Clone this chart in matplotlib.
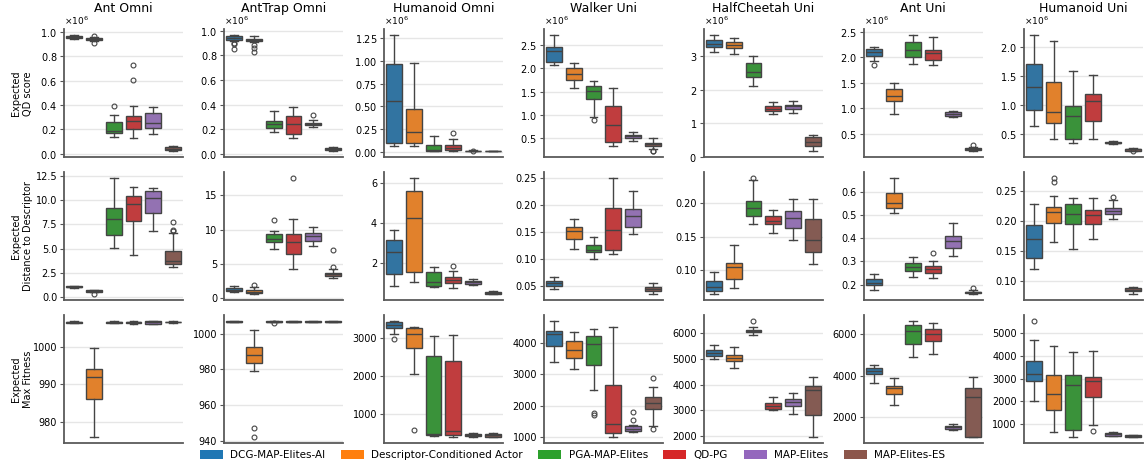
import numpy as np
import matplotlib
matplotlib.use("Agg")
import matplotlib.pyplot as plt
from matplotlib.ticker import MultipleLocator
from matplotlib.patches import Patch

ENVS = ["Ant Omni", "AntTrap Omni", "Humanoid Omni", "Walker Uni",
        "HalfCheetah Uni", "Ant Uni", "Humanoid Uni"]
METHODS = ["DCG-MAP-Elites-AI", "Descriptor-Conditioned Actor", "PGA-MAP-Elites",
           "QD-PG", "MAP-Elites", "MAP-Elites-ES"]
ROW_LABELS = ["Expected\nQD score", "Expected\nDistance to Descriptor",
              "Expected\nMax Fitness"]

# QD score, in millions (one row per env, one value per method)
QD_MED = [[0.960, 0.943, 0.187, 0.264, 0.250, 0.039],
          [0.940, 0.925, 0.240, 0.240, 0.245, 0.038],
          [0.562, 0.215, 0.018, 0.044, 0.010, 0.008],
          [2.378, 1.874, 1.507, 0.784, 0.532, 0.363],
          [3.35, 3.32, 2.52, 1.43, 1.50, 0.43],
          [2.10, 1.25, 2.14, 2.09, 0.895, 0.20],
          [1.313, 0.875, 0.80, 1.071, 0.345, 0.23]]
QD_Q1 = [[0.955, 0.935, 0.165, 0.201, 0.207, 0.028],
         [0.927, 0.916, 0.210, 0.165, 0.235, 0.030],
         [0.092, 0.092, 0.011, 0.018, 0.007, 0.006],
         [2.14, 1.745, 1.335, 0.414, 0.50, 0.32],
         [3.27, 3.24, 2.37, 1.36, 1.43, 0.31],
         [2.025, 1.153, 2.01, 1.945, 0.85, 0.18],
         [0.904, 0.679, 0.413, 0.719, 0.333, 0.21]]
QD_Q3 = [[0.965, 0.950, 0.256, 0.311, 0.331, 0.052],
         [0.955, 0.935, 0.270, 0.305, 0.255, 0.045],
         [0.965, 0.473, 0.078, 0.074, 0.012, 0.010],
         [2.45, 2.01, 1.615, 1.19, 0.56, 0.392],
         [3.47, 3.42, 2.79, 1.51, 1.55, 0.58],
         [2.15, 1.378, 2.29, 2.14, 0.935, 0.22],
         [1.70, 1.394, 0.979, 1.181, 0.356, 0.24]]
QD_LO = [[0.945, 0.928, 0.138, 0.124, 0.160, 0.017],
         [0.915, 0.905, 0.175, 0.130, 0.220, 0.020],
         [0.059, 0.067, 0.010, 0.010, 0.005, 0.004],
         [2.07, 1.587, 0.953, 0.327, 0.43, 0.27],
         [3.12, 3.07, 2.10, 1.26, 1.30, 0.16],
         [1.92, 0.896, 1.86, 1.85, 0.83, 0.16],
         [0.633, 0.413, 0.344, 0.402, 0.32, 0.21]]
QD_HI = [[0.975, 0.958, 0.317, 0.388, 0.380, 0.063],
         [0.965, 0.958, 0.345, 0.385, 0.275, 0.055],
         [1.287, 0.984, 0.170, 0.140, 0.015, 0.012],
         [2.716, 2.115, 1.723, 1.58, 0.633, 0.50],
         [3.62, 3.54, 2.99, 1.63, 1.66, 0.66],
         [2.20, 1.50, 2.43, 2.40, 0.95, 0.24],
         [2.20, 2.10, 1.585, 1.51, 0.37, 0.25]]
QD_OUT = [[[], [0.965, 0.912], [0.394], [0.725, 0.603], [], []],
          [[0.90, 0.89, 0.856], [0.883, 0.864, 0.829], [], [], [0.32], []],
          [[], [], [], [0.207], [0.012], []],
          [[], [], [0.881], [], [], [0.23, 0.21]],
          [[], [], [], [], [], []],
          [[1.853], [], [], [], [], [0.28]],
          [[], [], [], [], [], [0.195]]]

# distance to descriptor
DIST_MED = [[1.08, 0.62, 8.05, 9.56, 10.19, 3.76],
            [1.27, 0.98, 8.68, 8.24, 9.02, 3.58],
            [2.57, 4.25, 1.06, 1.18, 1.06, 0.54],
            [0.0556, 0.152, 0.117, 0.154, 0.180, 0.045],
            [0.0745, 0.104, 0.1925, 0.174, 0.1775, 0.145],
            [0.207, 0.551, 0.276, 0.268, 0.389, 0.167],
            [0.170, 0.214, 0.211, 0.210, 0.216, 0.085]]
DIST_Q1 = [[1.04, 0.55, 6.39, 7.84, 8.70, 3.45],
           [1.03, 0.74, 8.24, 6.47, 8.38, 3.29],
           [1.45, 1.55, 0.87, 1.01, 0.97, 0.49],
           [0.050, 0.137, 0.113, 0.116, 0.159, 0.041],
           [0.0685, 0.086, 0.181, 0.1685, 0.1625, 0.127],
           [0.199, 0.529, 0.257, 0.251, 0.356, 0.162],
           [0.137, 0.196, 0.194, 0.194, 0.211, 0.082]]
DIST_Q3 = [[1.12, 0.70, 9.22, 10.43, 10.88, 4.80],
           [1.47, 1.23, 9.31, 9.36, 9.46, 3.77],
           [3.16, 5.63, 1.56, 1.33, 1.12, 0.59],
           [0.060, 0.159, 0.126, 0.193, 0.192, 0.049],
           [0.084, 0.110, 0.2035, 0.180, 0.1875, 0.176],
           [0.225, 0.593, 0.293, 0.281, 0.409, 0.170],
           [0.192, 0.223, 0.227, 0.217, 0.221, 0.0875]]
DIST_LO = [[0.98, 0.50, 5.08, 4.32, 6.80, 3.07],
           [0.88, 0.59, 7.25, 4.31, 7.65, 3.00],
           [0.87, 1.06, 0.81, 0.77, 0.91, 0.45],
           [0.044, 0.118, 0.100, 0.109, 0.147, 0.035],
           [0.0635, 0.073, 0.1685, 0.1555, 0.145, 0.1085],
           [0.178, 0.508, 0.234, 0.229, 0.321, 0.158],
           [0.120, 0.165, 0.153, 0.170, 0.202, 0.077]]
DIST_HI = [[1.15, 0.75, 12.26, 11.29, 11.22, 6.56],
           [1.86, 1.70, 9.85, 11.57, 10.44, 4.30],
           [3.68, 6.27, 1.80, 1.60, 1.21, 0.64],
           [0.067, 0.174, 0.141, 0.249, 0.225, 0.056],
           [0.0975, 0.137, 0.234, 0.189, 0.206, 0.206],
           [0.245, 0.658, 0.318, 0.302, 0.465, 0.175],
           [0.227, 0.241, 0.238, 0.237, 0.235, 0.0898]]
DIST_OUT = [[[], [0.30], [], [], [], [7.77, 6.87, 6.80]],
            [[], [2.0], [11.42], [17.5], [], [4.55, 6.97]],
            [[], [], [], [1.88], [], []],
            [[], [], [], [], [], []],
            [[], [], [0.2375], [], [], []],
            [[], [], [], [0.335], [], [0.187]],
            [[], [0.271, 0.264], [], [], [0.240], []]]

# max fitness
FIT_MED = [[1006.55, 992.1, 1006.6, 1006.6, 1006.5, 1006.6],
           [1006.9, 988.2, 1006.8, 1006.9, 1006.8, 1006.9],
           [3364, 3116, 458, 538, 440, 431],
           [4288, 3787, 3968, 1437, 1277, 2075],
           [5231, 5036, 6104, 3173, 3329, 3779],
           [4229, 3412, 6163, 6016, 1535, 2971],
           [3222, 2333, 2704, 2881, 541, 467]]
FIT_Q1 = [[1006.4, 986.0, 1006.45, 1006.4, 1006.2, 1006.5],
          [1006.7, 983.5, 1006.6, 1006.7, 1006.6, 1006.7],
          [3267, 2742, 449, 449, 404, 387],
          [3893, 3520, 3296, 1128, 1213, 1893],
          [5127, 4932, 6039, 3042, 3173, 2840],
          [4098, 3118, 5559, 5673, 1437, 1045],
          [2911, 1607, 733, 2200, 481, 422]]
FIT_Q3 = [[1006.7, 994.2, 1006.75, 1006.7, 1006.8, 1006.7],
          [1007.1, 992.7, 1007.0, 1007.1, 1007.0, 1007.1],
          [3427, 3276, 2540, 2404, 476, 476],
          [4373, 4064, 4224, 2666, 1352, 2267],
          [5362, 5166, 6143, 3277, 3430, 3948],
          [4367, 3527, 6473, 6261, 1592, 3396],
          [3800, 3148, 3178, 3089, 600, 511]]
FIT_LO = [[1006.3, 975.9, 1006.3, 1006.2, 1006.0, 1006.4],
          [1006.5, 979.1, 1006.4, 1006.5, 1006.4, 1006.5],
          [3116, 2062, 404, 387, 387, 378],
          [3381, 3168, 2495, 1000, 1160, 1373],
          [4997, 4645, 5948, 3003, 2867, 1955],
          [3673, 2580, 4906, 5069, 1404, 1028],
          [2007, 630, 437, 956, 452, 407]]
FIT_HI = [[1006.8, 999.7, 1006.9, 1006.9, 1006.9, 1006.8],
          [1007.2, 1002.0, 1007.2, 1007.2, 1007.2, 1007.2],
          [3462, 3302, 3053, 3089, 493, 493],
          [4694, 4342, 4448, 4502, 1405, 2608],
          [5557, 5453, 6235, 3534, 3665, 4300],
          [4547, 3902, 6653, 6539, 1673, 3967],
          [4704, 4422, 4163, 4244, 630, 526]]
FIT_OUT = [[[], [], [], [], [], []],
           [[], [947.0, 941.9], [1006.2], [], [], []],
           [[2982], [582], [], [], [], []],
           [[], [], [1760, 1696], [], [1813, 1546], [2886, 1266]],
           [[], [], [6482], [], [], []],
           [[], [], [], [], [], []],
           [[5548], [], [], [704], [], []]]

QD_STEP = [0.2, 0.2, 0.25, 0.5, 1, 0.5, 0.5]
DIST_STEP = [2.5, 5, 2, 0.05, 0.05, 0.1, 0.05]
FIT_STEP = [10, 20, 1000, 1000, 1000, 2000, 1000]

box_colors = ["#3274a1", "#e1812c", "#3a923a", "#c03d3e", "#9372b2", "#845b53"]
legend_colors = ["#1f77b4", "#ff7f0e", "#2ca02c", "#d62728", "#9467bd", "#8c564b"]
line_col = "#444444"

rows = [
    (QD_MED, QD_Q1, QD_Q3, QD_LO, QD_HI, QD_OUT, QD_STEP, 1e6),
    (DIST_MED, DIST_Q1, DIST_Q3, DIST_LO, DIST_HI, DIST_OUT, DIST_STEP, 1),
    (FIT_MED, FIT_Q1, FIT_Q3, FIT_LO, FIT_HI, FIT_OUT, FIT_STEP, 1),
]

plt.rcParams["font.family"] = "DejaVu Sans"
fig, axes = plt.subplots(3, 7, figsize=(11.45, 4.65), dpi=100)
fig.subplots_adjust(left=0.056, right=0.998, top=0.937, bottom=0.047,
                    wspace=0.345, hspace=0.117)

for r, (med, q1, q3, lo, hi, out, step, scale) in enumerate(rows):
    for c in range(len(ENVS)):
        ax = axes[r, c]
        stats = []
        for m in range(len(METHODS)):
            stats.append(dict(med=med[c][m] * scale, q1=q1[c][m] * scale,
                              q3=q3[c][m] * scale, whislo=lo[c][m] * scale,
                              whishi=hi[c][m] * scale,
                              fliers=np.array(out[c][m]) * scale))
        bp = ax.bxp(stats, positions=range(len(METHODS)), widths=0.8,
                    patch_artist=True, showfliers=True,
                    boxprops=dict(edgecolor=line_col, linewidth=1.0),
                    medianprops=dict(color=line_col, linewidth=1.0),
                    whiskerprops=dict(color=line_col, linewidth=1.0),
                    capprops=dict(color=line_col, linewidth=1.0),
                    flierprops=dict(marker="o", markersize=3.5, markerfacecolor="none",
                                    markeredgecolor=line_col, markeredgewidth=0.8))
        for patch, col in zip(bp["boxes"], box_colors):
            patch.set_facecolor(col)
        ax.set_xlim(-0.5, len(METHODS) - 0.5)
        ax.set_xticks([])
        ax.yaxis.set_major_locator(MultipleLocator(step[c] * scale))
        if scale != 1:
            ax.ticklabel_format(axis="y", style="sci", scilimits=(6, 6), useMathText=True)
            ax.yaxis.get_offset_text().set_fontsize(6.5)
        ax.tick_params(axis="y", labelsize=7, length=3, width=0.8, color="#555555", pad=2)
        ax.yaxis.grid(True, color="#e6e6e6", linewidth=1.0)
        ax.set_axisbelow(True)
        for side in ["top", "right"]:
            ax.spines[side].set_visible(False)
        for side in ["left", "bottom"]:
            ax.spines[side].set_color("#5a5a5a")
            ax.spines[side].set_linewidth(1.3)
        if r == 0:
            # fixed y keeps the title from being pushed above the offset text
            ax.set_title(ENVS[c], fontsize=9, y=1.135, pad=0)
    pos = axes[r, 0].get_position()
    fig.text(0.019, (pos.y0 + pos.y1) / 2, ROW_LABELS[r], rotation=90,
             ha="center", va="center", fontsize=7, multialignment="center")

handles = [Patch(facecolor=col, edgecolor="none") for col in legend_colors]
fig.legend(handles, METHODS, loc="center", bbox_to_anchor=(0.5, 0.021), ncol=6,
           frameon=False, fontsize=7.5, handlelength=2.2, handleheight=0.9,
           handletextpad=0.7, columnspacing=1.5)

fig.savefig("out.png", dpi=100)
